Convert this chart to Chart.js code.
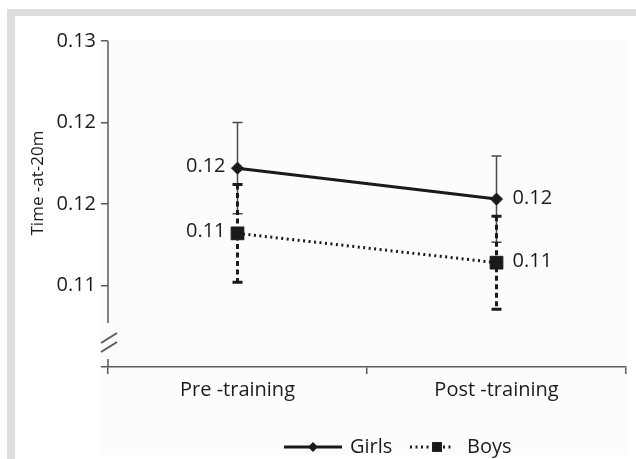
<!DOCTYPE html>
<html>
<head>
<meta charset="utf-8">
<title>Time-at-20m</title>
<script src="https://cdn.jsdelivr.net/npm/chart.js@4.4.1/dist/chart.umd.min.js"></script>
<style>
  html, body { margin: 0; padding: 0; background: #fff; }
  #wrap { position: relative; width: 636px; height: 459px; overflow: hidden; }
  .band { position: absolute; background: #dcdddf; }
  #top-band { left: 7px; top: 9px; width: 629px; height: 7px; }
  #left-band { left: 7px; top: 9px; width: 8px; height: 450px; }
  canvas { position: absolute; left: 0; top: 0; }
</style>
</head>
<body>
<div id="wrap">
  <div class="band" id="top-band"></div>
  <div class="band" id="left-band"></div>
  <canvas id="timeChart" width="636" height="459"></canvas>
</div>
<script>
const categories = ['Pre -training', 'Post -training'];
const girlsMeans = [0.1172, 0.1153];
const girlsErrors = [0.0028, 0.00265];
const boysMeans = [0.1132, 0.1114];
const boysErrors = [0.0030, 0.00285];
const yTickValues = [0.125, 0.12, 0.115, 0.11];
const yTickLabels = ['0.13', '0.12', '0.12', '0.11'];
const yAxisTitle = 'Time -at-20m';
const seriesNames = ['Girls', 'Boys'];

const FONT = "'Open Sans', 'DejaVu Sans', sans-serif";
const TEXT = '#1f1b1c';
const AXIS = '#5a5a5a';

// error bars go under each dataset's line and markers
const errorBars = {
  id: 'errorBars',
  beforeDatasetDraw(chart, args) {
    const ds = chart.data.datasets[args.index];
    const y = chart.scales.y;
    const ctx = chart.ctx;
    ctx.save();
    ctx.strokeStyle = ds.errColor;
    ctx.lineWidth = ds.errWidth;
    args.meta.data.forEach((pt, i) => {
      const v = ds.data[i];
      const top = y.getPixelForValue(v + ds.errors[i]);
      const bot = y.getPixelForValue(v - ds.errors[i]);
      ctx.setLineDash(ds.errDash);
      ctx.beginPath();
      ctx.moveTo(pt.x, top);
      ctx.lineTo(pt.x, bot);
      ctx.stroke();
      ctx.setLineDash([]);
      ctx.beginPath();
      ctx.moveTo(pt.x - 5, top);
      ctx.lineTo(pt.x + 5, top);
      ctx.moveTo(pt.x - 5, bot);
      ctx.lineTo(pt.x + 5, bot);
      ctx.stroke();
    });
    ctx.restore();
  }
};

// value labels, left of first point and right of second
const valueLabels = {
  id: 'valueLabels',
  afterDatasetsDraw(chart) {
    const ctx = chart.ctx;
    ctx.save();
    ctx.font = '20px ' + FONT;
    ctx.fillStyle = TEXT;
    ctx.textBaseline = 'middle';
    chart.data.datasets.forEach((ds, d) => {
      chart.getDatasetMeta(d).data.forEach((pt, i) => {
        const txt = ds.data[i].toFixed(2);
        if (i === 0) {
          ctx.textAlign = 'right';
          ctx.fillText(txt, pt.x - 12, pt.y - 2);
        } else {
          ctx.textAlign = 'left';
          ctx.fillText(txt, pt.x + 16, pt.y - 1);
        }
      });
    });
    ctx.restore();
  }
};

// broken y axis, title and bottom legend
const frame = {
  id: 'frame',
  beforeDraw(chart) {
    const ctx = chart.ctx;
    ctx.save();
    ctx.fillStyle = '#fcfcfc';
    ctx.fillRect(100, 40, 528, 415);
    ctx.restore();
  },
  afterDraw(chart) {
    const ctx = chart.ctx;
    const a = chart.chartArea;
    ctx.save();
    ctx.strokeStyle = AXIS;
    ctx.lineWidth = 1.5;
    ctx.beginPath();
    ctx.moveTo(a.left, a.top);
    ctx.lineTo(a.left, a.bottom - 44);
    ctx.moveTo(a.left, a.bottom - 8);
    ctx.lineTo(a.left, a.bottom);
    ctx.stroke();
    ctx.lineWidth = 2;
    ctx.beginPath();
    ctx.moveTo(a.left - 7, a.bottom - 24);
    ctx.lineTo(a.left + 9, a.bottom - 34);
    ctx.moveTo(a.left - 7, a.bottom - 15);
    ctx.lineTo(a.left + 9, a.bottom - 25);
    ctx.stroke();

    // y title
    ctx.fillStyle = TEXT;
    ctx.font = '17px ' + FONT;
    ctx.translate(38, 183);
    ctx.rotate(-Math.PI / 2);
    ctx.textAlign = 'center';
    ctx.textBaseline = 'middle';
    ctx.fillText(yAxisTitle, 0, 0);
    ctx.restore();

    // legend
    const items = [
      { ds: chart.data.datasets[0], x0: 284, x1: 342, mx: 313, tx: 350, r: 5 },
      { ds: chart.data.datasets[1], x0: 410, x1: 452, mx: 437, tx: 467, r: 7 }
    ];
    const ly = 447;
    items.forEach(it => {
      ctx.save();
      ctx.strokeStyle = it.ds.borderColor;
      ctx.lineWidth = it.ds.borderWidth;
      ctx.setLineDash(it.ds.borderDash || []);
      ctx.beginPath();
      ctx.moveTo(it.x0, ly);
      ctx.lineTo(it.x1, ly);
      ctx.stroke();
      ctx.setLineDash([]);
      ctx.fillStyle = it.ds.pointBackgroundColor;
      Chart.helpers.drawPoint(ctx, { pointStyle: it.ds.pointStyle, radius: it.r, rotation: 0, borderWidth: 0 }, it.mx, ly);
      ctx.fillStyle = TEXT;
      ctx.font = '20px ' + FONT;
      ctx.textAlign = 'left';
      ctx.textBaseline = 'middle';
      ctx.fillText(it.ds.label, it.tx, ly);
      ctx.restore();
    });
  }
};

const ctx = document.getElementById('timeChart').getContext('2d');

new Chart(ctx, {
  type: 'line',
  data: {
    labels: categories,
    datasets: [
      {
        label: seriesNames[0],
        data: girlsMeans,
        errors: girlsErrors,
        errColor: '#4a4a4a',
        errWidth: 1.5,
        errDash: [],
        borderColor: '#1a1a1a',
        borderWidth: 3,
        pointStyle: 'rectRot',
        pointRadius: 6,
        pointBackgroundColor: '#1a1a1a',
        pointBorderColor: '#1a1a1a',
        pointBorderWidth: 1,
        tension: 0,
        order: 2
      },
      {
        label: seriesNames[1],
        data: boysMeans,
        errors: boysErrors,
        errColor: '#1a1a1a',
        errWidth: 3,
        errDash: [5, 3.5],
        borderColor: '#1a1a1a',
        borderWidth: 3,
        borderDash: [2, 3.5],
        pointStyle: 'rect',
        pointRadius: 9,
        pointBackgroundColor: '#1a1a1a',
        pointBorderColor: '#1a1a1a',
        pointBorderWidth: 1,
        tension: 0,
        order: 1
      }
    ]
  },
  options: {
    responsive: false,
    animation: false,
    devicePixelRatio: 1,
    layout: { padding: { top: 41, right: 9, left: 20, bottom: 0 } },
    plugins: {
      legend: { display: false },
      tooltip: { enabled: false }
    },
    scales: {
      x: {
        type: 'category',
        offset: true,
        afterFit: (scale) => { scale.height = 92; },
        border: { display: true, color: AXIS, width: 1.5 },
        grid: { display: true, offset: true, drawOnChartArea: false, drawTicks: true, tickLength: 7, color: AXIS, lineWidth: 1.5 },
        ticks: { color: TEXT, font: { family: FONT, size: 20 }, padding: 4, maxRotation: 0 }
      },
      y: {
        min: 0.105,
        max: 0.125,
        afterFit: (scale) => { scale.width = 88; },
        border: { display: false },
        grid: { display: true, drawOnChartArea: false, drawTicks: true, tickLength: 7, color: AXIS, lineWidth: 1.5 },
        ticks: {
          stepSize: 0.005,
          color: TEXT,
          font: { family: FONT, size: 20 },
          padding: 5,
          callback: (value) => {
            const i = yTickValues.findIndex(v => Math.abs(v - value) < 1e-7);
            return i >= 0 ? yTickLabels[i] : '';
          }
        }
      }
    }
  },
  plugins: [errorBars, valueLabels, frame]
});
</script>
</body>
</html>
